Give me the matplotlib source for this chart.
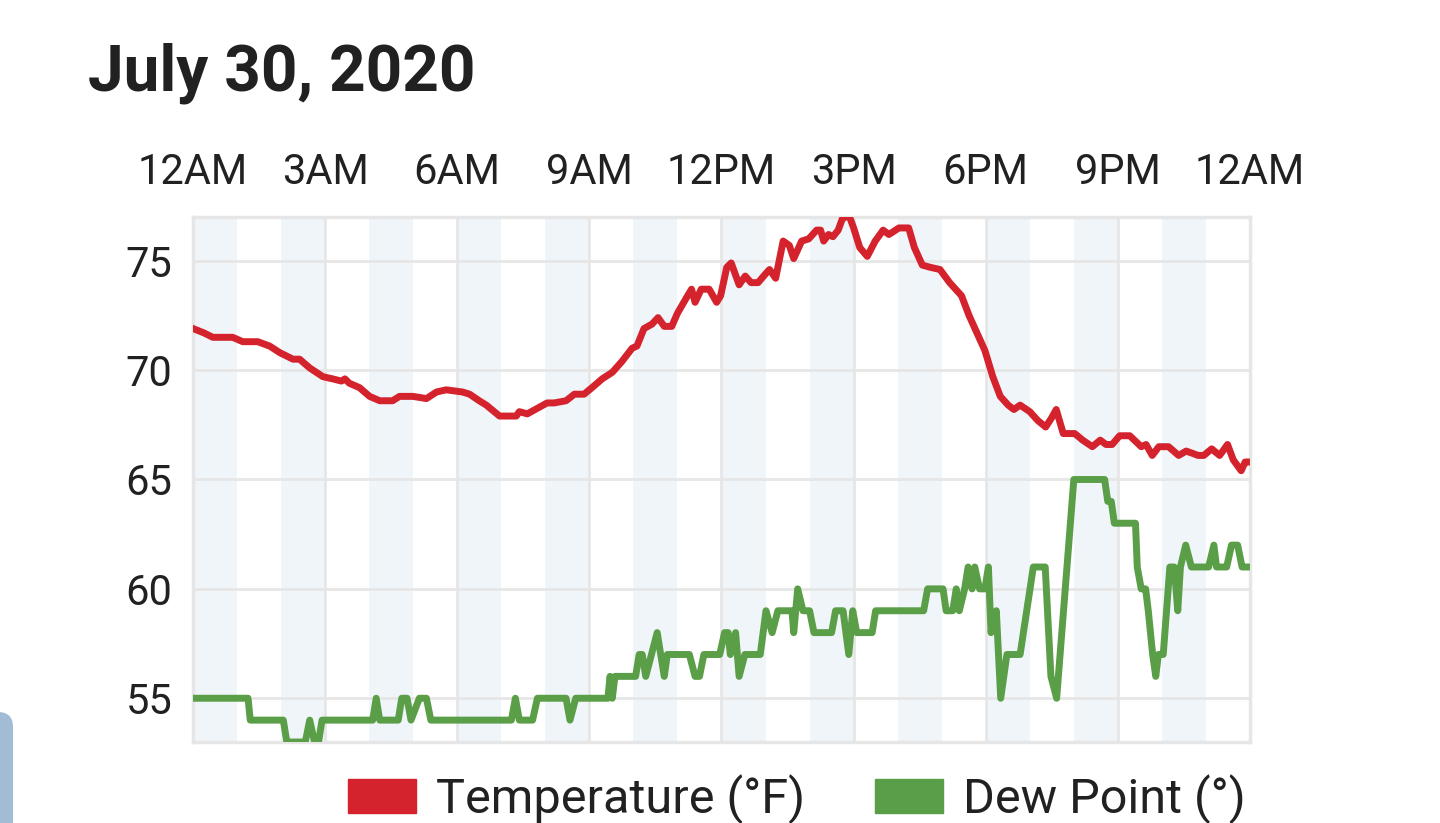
import matplotlib
matplotlib.use('Agg')
import matplotlib.pyplot as plt
from matplotlib.patches import Patch, FancyBboxPatch

plt.rcParams['font.family'] = ['Roboto', 'DejaVu Sans']

# Hours since midnight and readings
temp_hours = [0.0, 0.25, 0.45, 0.9, 1.13, 1.47, 1.74, 1.97, 2.27, 2.42, 2.65, 2.95,
              3.17, 3.37, 3.45, 3.55, 3.78, 4.01, 4.24, 4.53, 4.69, 4.99, 5.3, 5.53,
              5.75, 6.12, 6.28, 6.5, 6.66, 6.96, 7.34, 7.41, 7.59, 7.86, 8.04, 8.2,
              8.47, 8.66, 8.88, 9.06, 9.29, 9.52, 9.74, 9.97, 10.08, 10.24, 10.42, 10.56,
              10.70, 10.87, 11.0, 11.23, 11.32, 11.40, 11.54, 11.72, 11.89, 11.98, 12.12, 12.22,
              12.40, 12.54, 12.67, 12.83, 13.0, 13.09, 13.23, 13.40, 13.54, 13.64, 13.82, 13.98,
              14.16, 14.25, 14.32, 14.43, 14.53, 14.65, 14.74, 14.89, 15.0, 15.14, 15.31, 15.49,
              15.67, 15.80, 16.03, 16.25, 16.38, 16.56, 16.74, 16.96, 17.18, 17.45, 17.62, 17.80,
              17.98, 18.16, 18.33, 18.51, 18.64, 18.78, 19.0, 19.18, 19.36, 19.49, 19.6, 19.76,
              20.02, 20.2, 20.42, 20.6, 20.73, 20.87, 21.04, 21.27, 21.53, 21.64, 21.78, 21.93,
              22.15, 22.38, 22.55, 22.69, 22.82, 22.95, 23.13, 23.31, 23.49, 23.62, 23.80, 23.89,
              23.92]
temp_values = [71.9, 71.7, 71.5, 71.5, 71.3, 71.3, 71.1, 70.8, 70.5, 70.5, 70.1, 69.7,
               69.6, 69.5, 69.6, 69.4, 69.2, 68.8, 68.6, 68.6, 68.8, 68.8, 68.7, 69.0,
               69.1, 69.0, 68.9, 68.6, 68.4, 67.9, 67.9, 68.1, 68.0, 68.3, 68.5, 68.5,
               68.6, 68.9, 68.9, 69.2, 69.6, 69.9, 70.4, 71.0, 71.1, 71.9, 72.1, 72.4,
               72.0, 72.0, 72.6, 73.4, 73.7, 73.1, 73.7, 73.7, 73.1, 73.4, 74.7, 74.9,
               73.9, 74.3, 74.0, 74.0, 74.4, 74.6, 74.2, 75.9, 75.7, 75.1, 75.9, 76.0,
               76.4, 76.4, 75.9, 76.2, 76.1, 76.4, 76.9, 77.1, 76.5, 75.6, 75.2, 75.9,
               76.4, 76.2, 76.5, 76.5, 75.6, 74.8, 74.7, 74.6, 74.0, 73.4, 72.5, 71.7,
               70.9, 69.7, 68.8, 68.4, 68.2, 68.4, 68.1, 67.7, 67.4, 67.8, 68.2, 67.1,
               67.1, 66.8, 66.5, 66.8, 66.6, 66.6, 67.0, 67.0, 66.5, 66.6, 66.1, 66.5,
               66.5, 66.1, 66.3, 66.2, 66.1, 66.1, 66.4, 66.1, 66.6, 65.9, 65.4, 65.8,
               65.8]

dew_hours = [0.0, 1.25, 1.3, 2.05, 2.13, 2.55, 2.65, 2.76, 2.85, 2.93, 4.08, 4.16,
             4.24, 4.66, 4.74, 4.86, 4.95, 5.14, 5.30, 5.40, 7.23, 7.32, 7.41, 7.71,
             7.82, 8.47, 8.56, 8.69, 9.42, 9.47, 9.52, 9.58, 10.05, 10.13, 10.20, 10.28,
             10.54, 10.70, 10.77, 11.27, 11.4, 11.5, 11.6, 11.96, 12.07, 12.15, 12.2, 12.32,
             12.4, 12.53, 12.88, 13.01, 13.15, 13.28, 13.6, 13.64, 13.73, 13.85, 14.0, 14.1,
             14.5, 14.59, 14.76, 14.89, 14.98, 15.07, 15.42, 15.5, 16.59, 16.68, 17.03, 17.1,
             17.25, 17.33, 17.4, 17.52, 17.6, 17.69, 17.75, 17.86, 17.98, 18.06, 18.12, 18.24,
             18.34, 18.48, 18.78, 19.08, 19.35, 19.48, 19.61, 20.0, 20.7, 20.77, 20.85, 20.92,
             21.4, 21.44, 21.53, 21.63, 21.69, 21.79, 21.86, 21.92, 22.03, 22.18, 22.28, 22.36,
             22.42, 22.54, 22.67, 23.06, 23.18, 23.24, 23.47, 23.58, 23.72, 23.82, 23.92]
dew_values = [55, 55, 54, 54, 53, 53, 54, 53, 53, 54, 54, 55,
              54, 54, 55, 55, 54, 55, 55, 54, 54, 55, 54, 54,
              55, 55, 54, 55, 55, 56, 55, 56, 56, 57, 57, 56,
              58, 56, 57, 57, 56, 56, 57, 57, 58, 58, 57, 58,
              56, 57, 57, 59, 58, 59, 59, 58, 60, 59, 59, 58,
              58, 59, 59, 57, 59, 58, 58, 59, 59, 60, 60, 59,
              59, 60, 59, 60, 61, 60, 61, 60, 60, 61, 58, 59,
              55, 57, 57, 61, 61, 56, 55, 65, 65, 64, 64, 63,
              63, 61, 60, 60, 59, 57, 56, 57, 57, 61, 61, 59,
              61, 62, 61, 61, 62, 61, 61, 62, 62, 61, 61]

x_ticks = [0, 3, 6, 9, 12, 15, 18, 21, 24]
x_labels = ['12AM', '3AM', '6AM', '9AM', '12PM', '3PM', '6PM', '9PM', '12AM']
y_ticks = [55, 60, 65, 70, 75]

RED = '#d4232d'
GREEN = '#5b9e48'
GRID = '#e6e6e6'
TEXT = '#212121'

fig = plt.figure(figsize=(14.4, 8.23), dpi=100)
ax = fig.add_axes([193 / 1440, 1 - 742 / 823, (1250 - 193) / 1440, (742 - 217) / 823])

# alternating hour bands
for h in range(0, 24, 2):
    ax.axvspan(h, h + 1, color='#f0f5fa', zorder=0, lw=0)

ax.plot(temp_hours, temp_values, color=RED, lw=5, zorder=3, solid_joinstyle='round')
ax.plot(dew_hours, dew_values, color=GREEN, lw=5, zorder=3, solid_joinstyle='round')

ax.set_xlim(0, 24)
ax.set_ylim(53, 77)
ax.set_xticks(x_ticks)
ax.set_xticklabels(x_labels)
ax.set_yticks(y_ticks)
ax.xaxis.tick_top()
ax.tick_params(axis='x', length=0, pad=17, labelsize=30, labelcolor=TEXT)
ax.tick_params(axis='y', length=0, pad=15, labelsize=30, labelcolor=TEXT)
ax.grid(True, color=GRID, lw=2, zorder=1)
for s in ax.spines.values():
    s.set_color(GRID)
    s.set_linewidth(2.5)

fig.text(88 / 1440, 1 - 90 / 823, 'July 30, 2020', fontsize=46, fontweight='bold',
         color=TEXT, va='baseline', ha='left')

handles = [Patch(color=RED), Patch(color=GREEN)]
fig.legend(handles, ['Temperature (°F)', 'Dew Point (°)'], loc='center',
           bbox_to_anchor=(797 / 1440, 1 - 799 / 823), ncol=2, frameon=False,
           fontsize=35, handlelength=1.4, handleheight=0.72, handletextpad=0.4,
           columnspacing=1.45, labelcolor=TEXT)

# phone UI element at the left edge
fig.patches.append(FancyBboxPatch((-0.3, -0.3), 0.43, 1.41, boxstyle='round,pad=0,rounding_size=0.15',
                                  transform=fig.dpi_scale_trans, color='#a3bcd6', lw=0))

fig.savefig('out.png', dpi=100)
